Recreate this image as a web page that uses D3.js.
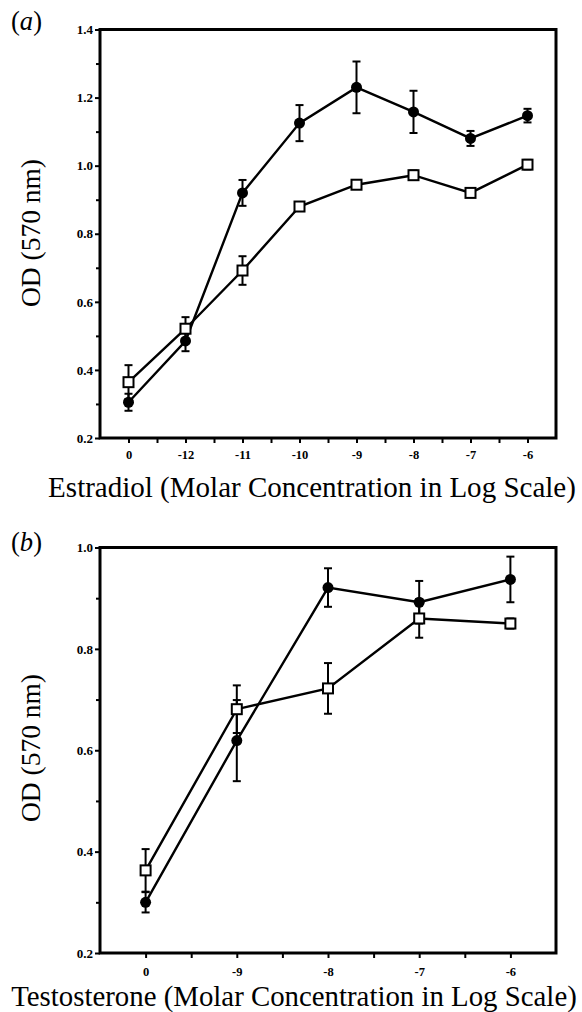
<!DOCTYPE html>
<html>
<head>
<meta charset="utf-8">
<script src="https://cdn.jsdelivr.net/npm/d3@7"></script>
<style>
  body { margin: 0; background: #fff; }
  svg { display: block; }
</style>
</head>
<body>
<div id="chart"></div>
<script>
// Panel (a): estradiol
const estradiolDoses = ["0", "-12", "-11", "-10", "-9", "-8", "-7", "-6"];
const estradiolFilled = [0.305, 0.485, 0.92, 1.125, 1.23, 1.158, 1.08, 1.147];
const estradiolFilledErr = [0.025, 0.03, 0.038, 0.053, 0.076, 0.062, 0.022, 0.02];
const estradiolOpen = [0.364, 0.521, 0.692, 0.88, 0.944, 0.972, 0.92, 1.003];
const estradiolOpenErr = [0.05, 0.034, 0.042, 0.008, 0.008, 0.014, 0.01, 0.014];
const estradiolYTicks = [0.2, 0.4, 0.6, 0.8, 1.0, 1.2, 1.4];

// Panel (b): testosterone
const testosteroneDoses = ["0", "-9", "-8", "-7", "-6"];
const testosteroneFilled = [0.30, 0.619, 0.921, 0.892, 0.937];
const testosteroneFilledErr = [0.02, 0.08, 0.038, 0.042, 0.045];
const testosteroneOpen = [0.363, 0.681, 0.722, 0.86, 0.85];
const testosteroneOpenErr = [0.042, 0.047, 0.05, 0.038, 0.01];
const testosteroneYTicks = [0.2, 0.4, 0.6, 0.8, 1.0];

const width = 582, height = 1012;
const serif = "'Liberation Serif', 'Times New Roman', 'DejaVu Serif', serif";

const svg = d3.select("#chart")
  .append("svg")
  .attr("width", width)
  .attr("height", height);

// shrink / grow a text so it spans the given width
function fitWidth(sel, target) {
  const node = sel.node();
  const fs = +sel.attr("font-size");
  const w = node.getComputedTextLength();
  if (w > 0) sel.attr("font-size", fs * target / w);
}

function panel(opts) {
  const n = opts.doses.length;
  const x = d3.scaleLinear().domain([-0.5, n - 0.5]).range([opts.left, opts.right]);
  const y = d3.scaleLinear().domain(opts.yDomain).range([opts.bottom, opts.top]);
  const g = svg.append("g");

  // minor ticks
  const yMinor = d3.range(opts.yDomain[0] + 0.1, opts.yDomain[1], 0.2);
  g.append("g")
    .attr("transform", `translate(${opts.left},0)`)
    .call(d3.axisLeft(y).tickValues(yMinor).tickSize(4).tickFormat(""))
    .call(s => s.select(".domain").remove())
    .selectAll("line").attr("stroke-width", 2);
  g.append("g")
    .attr("transform", `translate(0,${opts.bottom})`)
    .call(d3.axisBottom(x).tickValues(d3.range(0.5, n - 0.5, 1)).tickSize(5).tickFormat(""))
    .call(s => s.select(".domain").remove())
    .selectAll("line").attr("stroke-width", 2);

  // major ticks
  const yAxis = g.append("g")
    .attr("transform", `translate(${opts.left},0)`)
    .call(d3.axisLeft(y).tickValues(opts.yTicks).tickSize(5).tickPadding(2).tickFormat(d3.format(".1f")));
  yAxis.attr("font-family", serif).attr("font-size", 13).attr("font-weight", "bold");
  yAxis.select(".domain").remove();
  yAxis.selectAll("line").attr("stroke-width", 2);

  const xAxis = g.append("g")
    .attr("transform", `translate(0,${opts.bottom})`)
    .call(d3.axisBottom(x).tickValues(d3.range(0, n)).tickSize(5).tickPadding(opts.xPad)
      .tickFormat(i => opts.doses[i]));
  xAxis.attr("font-family", serif).attr("font-size", 12.5).attr("font-weight", "bold");
  xAxis.select(".domain").remove();
  xAxis.selectAll("line").attr("stroke-width", 2);

  // frame
  g.append("rect")
    .attr("x", opts.left).attr("y", opts.top)
    .attr("width", opts.right - opts.left).attr("height", opts.bottom - opts.top)
    .attr("fill", "none").attr("stroke", "#000").attr("stroke-width", 3);

  const line = d3.line().x((d, i) => x(i)).y(d => y(d));

  [[opts.filled, opts.filledErr], [opts.open, opts.openErr]].forEach(([vals, errs]) => {
    g.append("path").datum(vals)
      .attr("d", line).attr("fill", "none").attr("stroke", "#000").attr("stroke-width", 2.4);
    const eb = g.append("g").attr("stroke", "#000").attr("stroke-width", 2);
    vals.forEach((v, i) => {
      const cx = x(i), y1 = y(v + errs[i]), y2 = y(v - errs[i]);
      eb.append("line").attr("x1", cx).attr("x2", cx).attr("y1", y1).attr("y2", y2);
      eb.append("line").attr("x1", cx - 4).attr("x2", cx + 4).attr("y1", y1).attr("y2", y1);
      eb.append("line").attr("x1", cx - 4).attr("x2", cx + 4).attr("y1", y2).attr("y2", y2);
    });
  });

  g.selectAll(".sq").data(opts.open).join("rect")
    .attr("x", (d, i) => x(i) - 5).attr("y", d => y(d) - 5)
    .attr("width", 10).attr("height", 10)
    .attr("fill", "#fff").attr("stroke", "#000").attr("stroke-width", 2);

  g.selectAll(".dot").data(opts.filled).join("circle")
    .attr("cx", (d, i) => x(i)).attr("cy", d => y(d)).attr("r", 5.5)
    .attr("fill", "#000");

  // titles
  const xt = g.append("text")
    .attr("x", opts.xTitleX).attr("y", opts.xTitleY)
    .attr("text-anchor", "middle").attr("font-family", serif).attr("font-size", 26)
    .text(opts.xTitle);
  fitWidth(xt, opts.xTitleW);
  const yt = g.append("text")
    .attr("transform", `translate(40,${opts.yTitleY}) rotate(-90)`)
    .attr("text-anchor", "middle").attr("font-family", serif).attr("font-size", 26)
    .text("OD (570 nm)");
  fitWidth(yt, 148);
  const lab = g.append("text")
    .attr("x", 11).attr("y", opts.labelY).attr("font-family", serif).attr("font-size", 24);
  lab.append("tspan").text("(");
  lab.append("tspan").attr("font-style", "italic").text(opts.label);
  lab.append("tspan").text(")");
  fitWidth(lab, 31);
}

panel({
  doses: estradiolDoses, filled: estradiolFilled, filledErr: estradiolFilledErr,
  open: estradiolOpen, openErr: estradiolOpenErr, yTicks: estradiolYTicks,
  yDomain: [0.2, 1.4], left: 100, right: 556, top: 29.5, bottom: 438, xPad: 7,
  xTitle: "Estradiol (Molar Concentration in Log Scale)", xTitleX: 312, xTitleY: 497, xTitleW: 528,
  yTitleY: 233, label: "a", labelY: 30
});

panel({
  doses: testosteroneDoses, filled: testosteroneFilled, filledErr: testosteroneFilledErr,
  open: testosteroneOpen, openErr: testosteroneOpenErr, yTicks: testosteroneYTicks,
  yDomain: [0.2, 1.0], left: 100, right: 556, top: 547.5, bottom: 953, xPad: 9,
  xTitle: "Testosterone (Molar Concentration in Log Scale)", xTitleX: 294, xTitleY: 1006, xTitleW: 566,
  yTitleY: 748, label: "b", labelY: 551
});
</script>
</body>
</html>
